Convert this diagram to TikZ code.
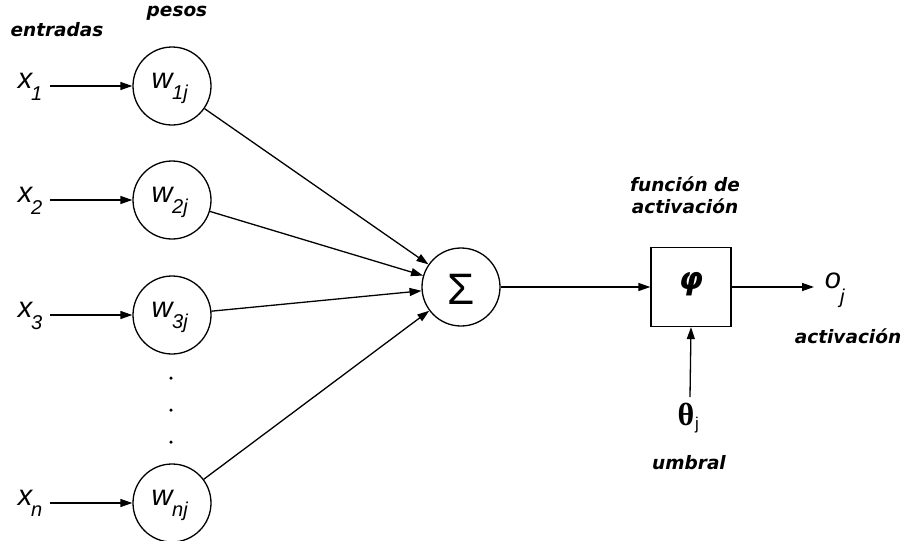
\documentclass[tikz,border=0pt]{standalone}
\usepackage{fontspec}
\setmainfont{Liberation Sans}
\newfontfamily\headfont{DejaVu Sans}
\newfontfamily\thetafont{Liberation Serif}
\usetikzlibrary{arrows.meta}
\begin{document}
\begin{tikzpicture}[x=1pt,y=-1pt,
  every node/.style={inner sep=0pt},
  wc/.style={draw,circle,minimum size=78pt,line width=1.3pt},
  bx/.style={draw,minimum width=80pt,minimum height=79pt,line width=1.3pt},
  ar/.style={line width=1.3pt,-{Triangle[length=12pt,width=8pt]}},
  head/.style={font=\headfont\bfseries\itshape\fontsize{18.5}{22}\selectfont,align=center},
  var/.style={font=\itshape\fontsize{29}{29}\selectfont},
  sub/.style={font=\itshape\fontsize{20}{20}\selectfont}]
\useasboundingbox (0,0) rectangle (903,541);
% headings
\node[head] (hin) at (57,30) {entradas};
\node[head] (hpe) at (177,13) {pesos};
\node[head] (hfa) at (685,195) {función de\\activación};
\node[head] (hac) at (848,336) {activación};
\node[head] (hum) at (689,463) {umbral};
% weights
\node[wc] (w1) at (172,86) {};
\node[wc] (w2) at (172,200) {};
\node[wc] (w3) at (172,315) {};
\node[wc] (wn) at (172,503) {};
\foreach \n/\s/\y in {w1/1j/86,w2/2j/200,w3/3j/315,wn/nj/503}{
  \node[var] (\n t) at (162,\y-5) {w};
  \node[sub,anchor=west] (\n s) at (172,\y+8) {\s};
}
% inputs
\foreach \n/\s/\y in {1/1/86,2/2/200,3/3/315,n/n/503}{
  \node[var] (x\n) at (25,\y-5) {x};
  \node[sub,anchor=west] (x\n s) at (31,\y+8) {\s};
  \coordinate (xa\n) at (50,\y);
  \draw[ar] (xa\n) -- (w\n.west);
}
% dots
\foreach \k/\y in {a/378,b/410,c/442}{
  \node[circle,fill,minimum size=3.5pt] (d\k) at (171,\y) {};
}
% sum
\node[wc] (sum) at (461,287) {};
\node[font=\fontsize{44}{44}\selectfont] (sg) at (461,289) {Σ};
\foreach \n in {w1,w2,w3,wn}{ \draw[ar] (\n) -- (sum); }
% activation box
\node[bx] (phi) at (691,287) {};
\node[font=\headfont\bfseries\itshape\fontsize{31}{31}\selectfont] (phit) at (691,284) {φ};
\draw[ar] (sum) -- (phi);
\coordinate (oa) at (814,287);
\draw[ar] (phi) -- (oa);
\node[var] (o) at (833,281) {o};
\node[sub,anchor=west] (os) at (840,298) {j};
% threshold
\coordinate (ta) at (690,397);
\draw[ar] (ta) -- (phi.south);
\node[font=\thetafont\bfseries\fontsize{32}{32}\selectfont] (th) at (686,414) {θ};
\node[font=\fontsize{17}{17}\selectfont,anchor=west] (ths) at (695,425) {j};
\end{tikzpicture}
\end{document}
